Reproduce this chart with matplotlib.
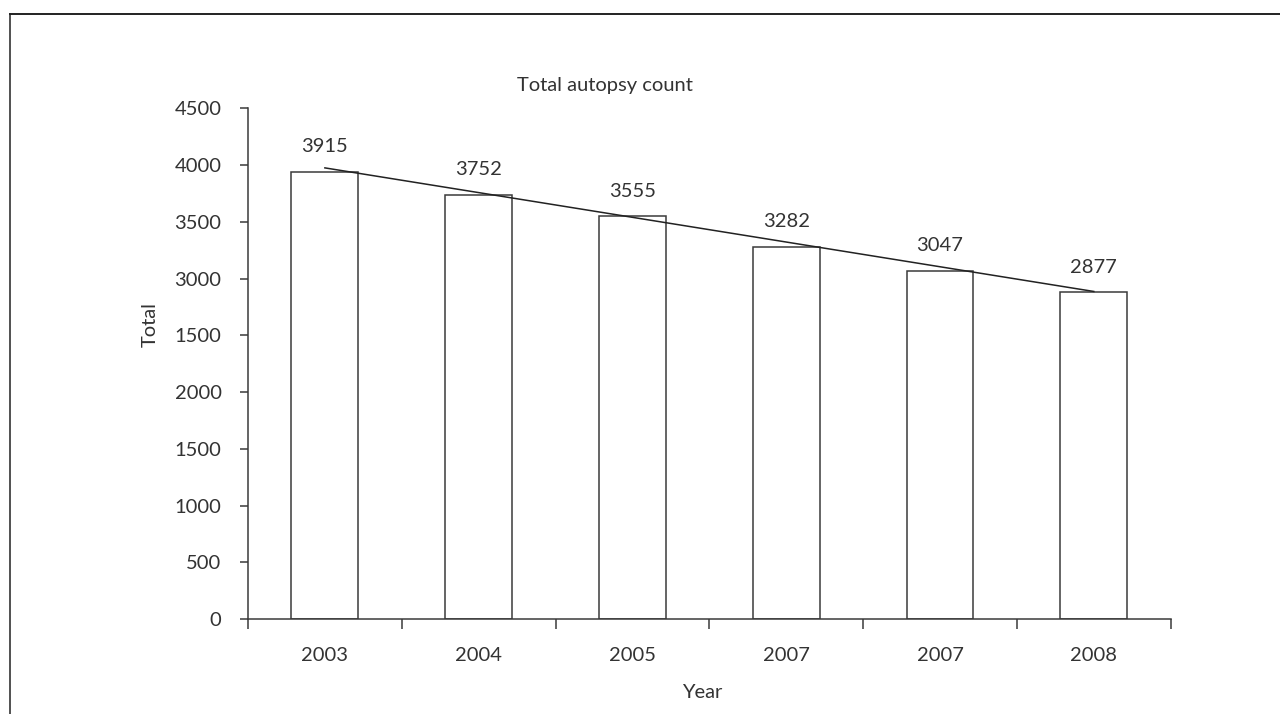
import matplotlib
matplotlib.use("Agg")
import matplotlib.pyplot as plt
from matplotlib.lines import Line2D

plt.rcParams['font.family'] = ['Lato', 'DejaVu Sans']

# ---- data ----
years = ["2003", "2004", "2005", "2007", "2007", "2008"]
bar_heights = [3939, 3739, 3548, 3278, 3069, 2881]
value_labels = ["3915", "3752", "3555", "3282", "3047", "2877"]
trend_start = 3975
trend_end = 2886
y_ticks = [0, 500, 1000, 1500, 2000, 2500, 3000, 3500, 4000, 4500]
y_tick_labels = ["0", "500", "1000", "1500", "2000", "1500", "3000", "3500", "4000", "4500"]
title = "Total autopsy count"
xlabel = "Year"
ylabel = "Total"

TXT = "#333333"
LN = "#3a3a3a"
FS = 14.5

fig = plt.figure(figsize=(12.8, 7.14), dpi=100)
ax = fig.add_axes([248/1280, 1-619/714, (1170.7-248)/1280, (619-108.3)/714])

x = list(range(len(years)))
ax.bar(x, bar_heights, width=0.435, facecolor="white", edgecolor=LN, linewidth=1.1, zorder=2)
ax.plot([x[0], x[-1]], [trend_start, trend_end], color="#222222", linewidth=1.1, zorder=3)

for xi, h, lab in zip(x, bar_heights, value_labels):
    ax.annotate(lab, (xi, h), xytext=(0, 18), textcoords="offset points",
                ha="center", va="center", fontsize=FS, color=TXT)

ax.set_xlim(-0.5, len(years) - 0.5)
ax.set_ylim(0, 4500)
ax.set_yticks(y_ticks)
ax.set_yticklabels(y_tick_labels)

# category boundary ticks (major) and labels at centers (minor)
ax.set_xticks([i - 0.5 for i in range(len(years) + 1)])
ax.set_xticklabels([])
ax.set_xticks(x, minor=True)
ax.set_xticklabels(years, minor=True)
ax.tick_params(axis="x", which="major", direction="out", length=7, width=1.1, color=LN)
ax.tick_params(axis="x", which="minor", length=0, pad=20, labelsize=FS, labelcolor=TXT)
ax.tick_params(axis="y", direction="out", length=6, width=1.1, color=LN, pad=13,
               labelsize=FS, labelcolor=TXT)

for s in ["top", "right"]:
    ax.spines[s].set_visible(False)
for s in ["left", "bottom"]:
    ax.spines[s].set_color(LN)
    ax.spines[s].set_linewidth(1.1)

fig.text(605/1280, 1-85/714, title, ha="center", va="center", fontsize=FS, color=TXT)
fig.text(702/1280, 1-692/714, xlabel, ha="center", va="center", fontsize=FS, color=TXT)
fig.text(150/1280, 1-325/714, ylabel, ha="center", va="center", rotation=90, fontsize=FS, color=TXT)

# figure frame (top and left edges)
fig.add_artist(Line2D([9.5/1280, 1.0], [1-13.5/714, 1-13.5/714], transform=fig.transFigure,
                      color="#222222", linewidth=1.4))
fig.add_artist(Line2D([9.5/1280, 9.5/1280], [0.0, 1-13.5/714], transform=fig.transFigure,
                      color="#222222", linewidth=1.1))

fig.savefig("out.png", dpi=100, facecolor="white")
